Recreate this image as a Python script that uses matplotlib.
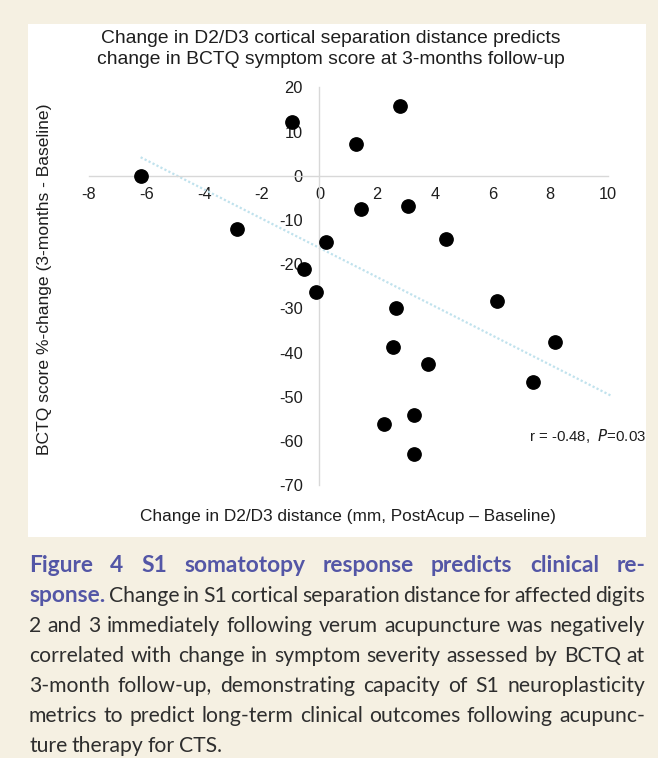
import numpy as np
import matplotlib
matplotlib.use("Agg")
import matplotlib.pyplot as plt
from matplotlib.patches import Rectangle

# data
dist_change = [-6.20, -2.85, -0.96, 1.26, 2.80, 1.43, 3.08, 4.38, 0.21, -0.54,
               -0.13, 2.65, 2.55, 3.76, 6.16, 8.15, 7.39, 2.24, 3.28, 3.28]
bctq_change = [0.0, -12.1, 12.1, 7.1, 15.8, -7.5, -6.9, -14.4, -15.1, -21.0,
               -26.4, -29.9, -38.7, -42.6, -28.3, -37.7, -46.6, -56.2, -54.1, -63.0]
x_ticks = [-8, -6, -4, -2, 0, 2, 4, 6, 8, 10]
y_ticks = [20, 10, 0, -10, -20, -30, -40, -50, -60, -70]

title = "Change in D2/D3 cortical separation distance predicts\nchange in BCTQ symptom score at 3-months follow-up"
x_label = "Change in D2/D3 distance (mm, PostAcup \u2013 Baseline)"
y_label = "BCTQ score %-change (3-months - Baseline)"
stat_text = r"r = -0.48,  $\it{P}$=0.03"

caption_lines = [
    "Figure 4  S1 somatotopy response predicts clinical re-",
    "sponse. Change in S1 cortical separation distance for affected digits",
    "2 and 3 immediately following verum acupuncture was negatively",
    "correlated with change in symptom severity assessed by BCTQ at",
    "3-month follow-up, demonstrating capacity of S1 neuroplasticity",
    "metrics to predict long-term clinical outcomes following acupunc-",
    "ture therapy for CTS.",
]
n_bold_words = [8, 1, 0, 0, 0, 0, 0]

W, H = 658, 758
cream = "#f5f0e2"
purple = "#5356a6"

plt.rcParams["font.family"] = ["Liberation Sans", "DejaVu Sans"]
fig = plt.figure(figsize=(W / 100, H / 100), dpi=100, facecolor=cream)

# white chart panel
fig.patches.append(Rectangle((28 / W, 1 - 537 / H), (646 - 28) / W, (537 - 24) / H,
                             transform=fig.transFigure, facecolor="white",
                             edgecolor="none", zorder=-10))

ax = fig.add_axes([88.7 / W, 1 - 485.1 / H, (608 - 88.7) / W, (485.1 - 87.3) / H])
ax.set_zorder(1)
ax.set_facecolor("none")
ax.set_xlim(-8, 10)
ax.set_ylim(-70, 20)
for s in ["top", "right"]:
    ax.spines[s].set_visible(False)
ax.spines["left"].set_position(("data", 0))
ax.spines["bottom"].set_position(("data", 0))
for s in ["left", "bottom"]:
    ax.spines[s].set_color("#d8d8d8")
    ax.spines[s].set_linewidth(1.0)
ax.set_xticks(x_ticks)
ax.set_yticks(y_ticks)
ax.set_xticklabels([str(t) for t in x_ticks])
ax.set_yticklabels([str(t) for t in y_ticks])
ax.tick_params(axis="x", length=0, pad=8, labelsize=11.8, labelcolor="#1e1e1e")
ax.tick_params(axis="y", length=0, pad=12, labelsize=11.8, labelcolor="#1e1e1e")

# trend line
x = np.array(dist_change)
y = np.array(bctq_change)
slope, intercept = np.polyfit(x, y, 1)
xs = np.array([x.min(), 10.1])
ax.plot(xs, slope * xs + intercept, color="#c0e2ed", lw=1.6,
        linestyle=(0, (1, 1)), clip_on=False, zorder=2)

ax.scatter(x, y, s=92, color="black", zorder=3, clip_on=False)

ax.text(7.25, -59, stat_text, fontsize=10.8, color="#1e1e1e", va="center", ha="left")

fig.text(331 / W, 1 - 49 / H, title, ha="center", va="center", fontsize=13.9,
         color="#1e1e1e", linespacing=1.25)
fig.text(45 / W, 1 - 279 / H, y_label, rotation=90, ha="center", va="center",
         fontsize=12.6, color="#1e1e1e")
fig.text(348 / W, 1 - 517 / H, x_label, ha="center", va="center",
         fontsize=12.4, color="#1e1e1e")

# justified caption, drawn word by word
renderer = fig.canvas.get_renderer()
x_left, x_right = 29, 645
cap_size = 15.2
for i, line in enumerate(caption_lines):
    words = line.split()
    yc = 1 - (566 + 30 * i) / H
    texts = []
    for j, w in enumerate(words):
        bold = j < n_bold_words[i]
        t = fig.text(0, yc, w, fontsize=cap_size * (1.08 if bold else 1.0),
                     family=["Lato", "DejaVu Sans"],
                     fontweight="bold" if bold else "normal",
                     color=purple if bold else "#2e2e2e", va="center", ha="left")
        texts.append(t)
    widths = [t.get_window_extent(renderer).width for t in texts]
    if i < len(caption_lines) - 1 and len(words) > 1:
        gap = (x_right - x_left - sum(widths)) / (len(words) - 1)
    else:
        gap = cap_size * 0.27
    pos = x_left
    for t, wdt in zip(texts, widths):
        t.set_x(pos / W)
        pos += wdt + gap

fig.savefig("out.png", dpi=100, facecolor=cream)
